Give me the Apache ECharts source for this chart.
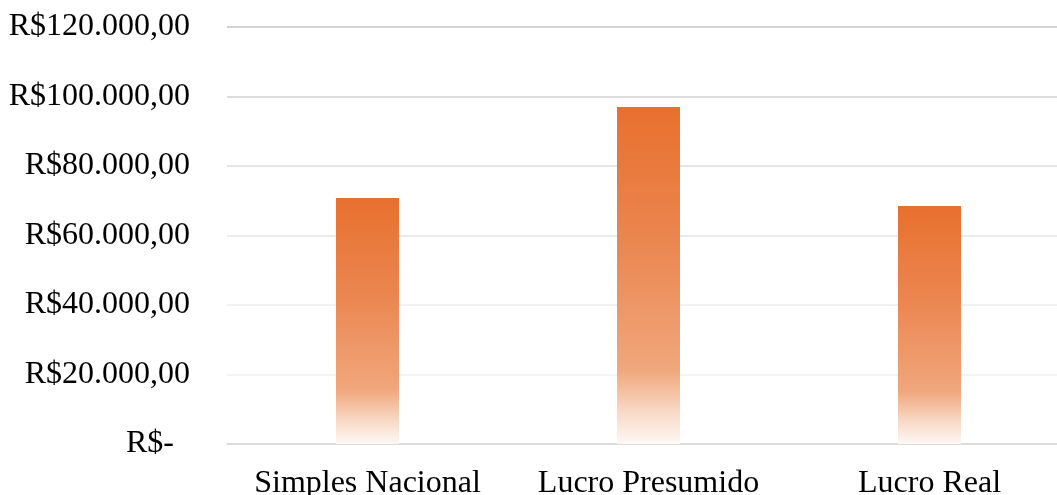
<!DOCTYPE html>
<html>
<head>
<meta charset="utf-8">
<style>
  html, body { margin: 0; padding: 0; background: #ffffff; }
  #chart { width: 1057px; height: 495px; }
</style>
<script src="https://cdn.jsdelivr.net/npm/echarts@6/dist/echarts.min.js"></script>
</head>
<body>
<div id="chart"></div>
<script>
// Regime tributário e o custo total correspondente (R$)
const categories = ['Simples Nacional', 'Lucro Presumido', 'Lucro Real'];
const values = [70800, 97000, 68500];
const yTicks = [0, 20000, 40000, 60000, 80000, 100000, 120000];

const FONT = '"Liberation Serif", "Times New Roman", "DejaVu Serif", serif';

// Accounting-style currency label: zero is shown as "R$-" (padded like the digits column)
function brl(v) {
  if (v === 0) return 'R$-\u2002';
  const s = Math.round(v).toString().replace(/\B(?=(\d{3})+(?!\d))/g, '.');
  return 'R$' + s + ',00';
}

// Gridlines get lighter from top to bottom (index 0 = bottom line)
const gridColors = ['#d9d9d9', '#f1f1f1', '#ececec', '#e5e5e5', '#dcdcdc', '#d1d1d1', '#c6c6c6'];

const chart = echarts.init(document.getElementById('chart'), null, { renderer: 'canvas' });
chart.setOption({
  backgroundColor: '#ffffff',
  animation: false,
  grid: { left: 227, top: 27, right: -13, bottom: 51, containLabel: false, outerBoundsMode: 'none' },
  xAxis: {
    type: 'category',
    data: categories,
    axisTick: { show: false },
    axisLine: { show: true, lineStyle: { color: '#d9d9d9', width: 1.5 } },
    axisLabel: { color: '#000', fontFamily: FONT, fontSize: 32, margin: 24, interval: 0 }
  },
  yAxis: {
    type: 'value',
    min: yTicks[0],
    max: yTicks[yTicks.length - 1],
    interval: yTicks[1] - yTicks[0],
    axisLine: { show: false },
    axisTick: { show: false },
    splitLine: { show: true, lineStyle: { color: gridColors, width: 1.5 } },
    axisLabel: { color: '#000', fontFamily: FONT, fontSize: 32, margin: 37, formatter: brl }
  },
  series: [{
    type: 'bar',
    data: values,
    barWidth: 63,
    itemStyle: {
      color: new echarts.graphic.LinearGradient(0, 0, 0, 1, [
        { offset: 0, color: '#e8702e' },
        { offset: 0.4, color: '#eb8650' },
        { offset: 0.78, color: '#f0a77c' },
        { offset: 0.9, color: '#f8d7c3' },
        { offset: 1, color: '#fef8f4' }
      ])
    }
  }]
});
</script>
</body>
</html>
